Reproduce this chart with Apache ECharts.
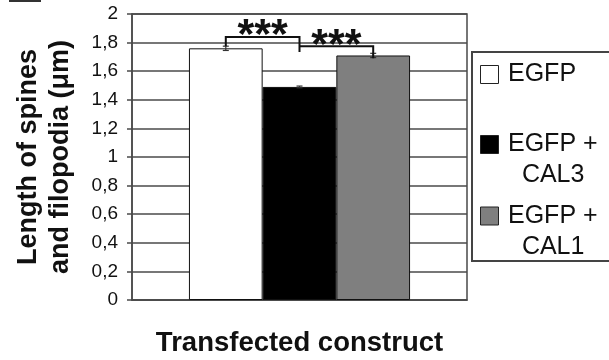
<!DOCTYPE html>
<html><head><meta charset="utf-8">
<script src="https://cdn.jsdelivr.net/npm/echarts@6/dist/echarts.min.js"></script>
<style>html,body{margin:0;padding:0;background:#fff}#chart{width:609px;height:360px}</style>
</head><body><div id="chart"></div>
<script>
// Mean length of spines and filopodia per transfected construct
const categories = ['Transfected construct'];
const seriesNames = ['EGFP', 'EGFP + CAL3', 'EGFP + CAL1'];
const legendLines = [['EGFP'], ['EGFP +', '  CAL3'], ['EGFP +', '  CAL1']];
const means = [1.76, 1.49, 1.71];
const errors = [0.015, 0.006, 0.015];
const barColors = ['#ffffff', '#000000', '#7f7f7f'];
const yTickLabels = ['0', '0,2', '0,4', '0,6', '0,8', '1', '1,2', '1,4', '1,6', '1,8', '2'];
// significance brackets: [from bar, to bar, bracket height, left leg end, right leg end]
const brackets = [[0, 1, 1.84, 1.775, 1.735], [1, 2, 1.775, 1.775, 1.69]];
const bracketLabels = ['***', '***'];

const GAP = 0.34;
const FONT = '"Liberation Sans", Arial, sans-serif';
const AXIS_COLOR = '#4a4a4a';

function barCenterX(api, idx) {
  const band = api.size([1, 0])[0];
  const w = band * (1 - GAP) / seriesNames.length;
  const c = api.coord([0, 0])[0];
  return c + (idx - (seriesNames.length - 1) / 2) * w;
}

const barSeries = seriesNames.map((name, i) => ({
  name: name,
  type: 'bar',
  data: [means[i]],
  barGap: '0%',
  barCategoryGap: (GAP * 100) + '%',
  itemStyle: { color: barColors[i], borderColor: '#111', borderWidth: 1 },
  z: 2
}));

const errorSeries = {
  type: 'custom',
  z: 5,
  clip: false,
  encode: { x: 0, y: 1 },
  data: means.map((m, i) => [0, m, errors[i], i]),
  renderItem: function (params, api) {
    const m = api.value(1), e = api.value(2), idx = api.value(3);
    const x = barCenterX(api, idx);
    const yTop = api.coord([0, m + e])[1];
    const yBot = api.coord([0, m - e])[1];
    const cap = 3;
    const st = { stroke: '#333', lineWidth: 1.2 };
    return {
      type: 'group',
      children: [
        { type: 'line', shape: { x1: x, y1: yTop, x2: x, y2: yBot }, style: st },
        { type: 'line', shape: { x1: x - cap, y1: yTop, x2: x + cap, y2: yTop }, style: st },
        { type: 'line', shape: { x1: x - cap, y1: yBot, x2: x + cap, y2: yBot }, style: st }
      ]
    };
  }
};

const bracketSeries = {
  type: 'custom',
  z: 6,
  clip: false,
  encode: { x: 0, y: 1 },
  data: brackets.map((b, k) => [0, b[2], b[0], b[1], b[3], b[4], k]),
  renderItem: function (params, api) {
    const level = api.value(1);
    const x1 = barCenterX(api, api.value(2));
    const x2 = barCenterX(api, api.value(3));
    const y = api.coord([0, level])[1];
    const yl = api.coord([0, api.value(4)])[1];
    const yr = api.coord([0, api.value(5)])[1];
    const st = { stroke: '#111', lineWidth: 2, fill: null };
    return {
      type: 'group',
      children: [
        { type: 'polyline', shape: { points: [[x1, yl], [x1, y], [x2, y], [x2, yr]] }, style: st },
        {
          type: 'text',
          style: {
            x: (x1 + x2) / 2, y: y + 21,
            text: bracketLabels[api.value(6)],
            font: 'bold 43px ' + FONT,
            fill: '#111', align: 'center', verticalAlign: 'bottom'
          }
        }
      ]
    };
  }
};

// legend drawn as a boxed list with the swatch beside the first text line
const legendGraphics = [{
  type: 'rect', shape: { x: 472, y: 52, width: 220, height: 209 },
  style: { fill: '#fff', stroke: '#444', lineWidth: 2 }
}];
const legendTops = [74.5, 144.5, 216];
seriesNames.forEach((n, i) => {
  legendGraphics.push({
    type: 'rect', shape: { x: 480.5, y: legendTops[i] - 9, width: 18, height: 18 },
    style: { fill: barColors[i], stroke: '#222', lineWidth: 1 }
  });
  legendGraphics.push({
    type: 'text',
    style: {
      x: 508, y: legendTops[i] - 15.5,
      text: legendLines[i].join('\n'),
      font: '25px ' + FONT, lineHeight: 31,
      fill: '#111', align: 'left', verticalAlign: 'top'
    }
  });
});
// partial panel label frame at the top-left corner
legendGraphics.push({
  type: 'rect', shape: { x: 10, y: -30, width: 30, height: 31 },
  style: { fill: 'none', stroke: '#333', lineWidth: 2 }
});

const chart = echarts.init(document.getElementById('chart'), null, { renderer: 'canvas' });
chart.setOption({
  animation: false,
  backgroundColor: '#fff',
  textStyle: { fontFamily: FONT },
  grid: {
    left: 132, top: 14, width: 335, height: 286,
    containLabel: false, outerBoundsMode: 'none',
    show: true, borderColor: AXIS_COLOR, borderWidth: 1.5, backgroundColor: 'transparent'
  },
  xAxis: {
    type: 'category',
    data: categories,
    name: categories[0],
    nameLocation: 'middle',
    nameGap: 29,
    nameTextStyle: { fontSize: 27.5, fontWeight: 'bold', color: '#111', fontFamily: FONT },
    axisLabel: { show: false },
    axisTick: { show: false },
    axisLine: { lineStyle: { color: AXIS_COLOR, width: 1.5 } }
  },
  yAxis: {
    type: 'value',
    min: 0, max: 2, interval: 0.2,
    name: 'Length of spines\nand filopodia (\u03bcm)',
    nameLocation: 'middle',
    nameRotate: 90,
    nameGap: 55,
    nameTextStyle: { fontSize: 27, fontWeight: 'bold', color: '#111', lineHeight: 32, fontFamily: FONT },
    axisLine: { show: true, lineStyle: { color: AXIS_COLOR, width: 1.5 } },
    axisTick: { show: true, length: 5, lineStyle: { color: AXIS_COLOR, width: 1.5 } },
    axisLabel: {
      fontSize: 19, color: '#111', margin: 14,
      formatter: function (v) { return yTickLabels[Math.round(v / 0.2)]; }
    },
    splitLine: { show: true, lineStyle: { color: AXIS_COLOR, width: 1.5 } }
  },
  series: barSeries.concat([errorSeries, bracketSeries]),
  graphic: legendGraphics
});
</script></body></html>
